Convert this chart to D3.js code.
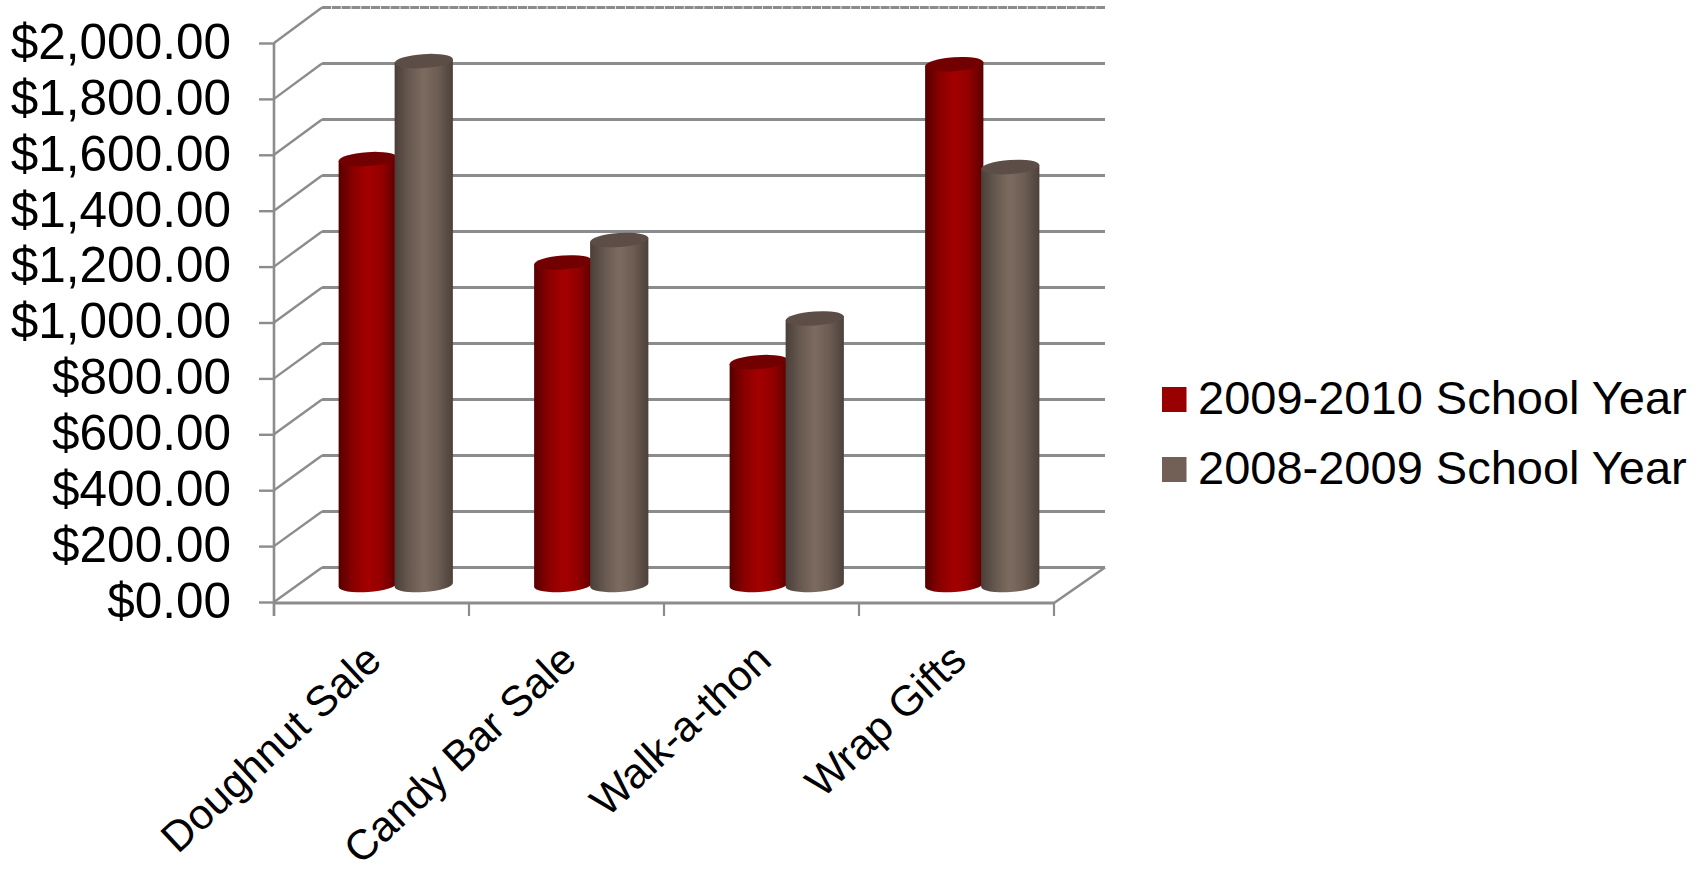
<!DOCTYPE html>
<html>
<head>
<meta charset="utf-8">
<script src="https://cdn.jsdelivr.net/npm/d3@7"></script>
<style>
	html, body { margin: 0; padding: 0; background: #fff; }
	svg { display: block; }
	text { font-family: "Liberation Sans", sans-serif; fill: #000; }
	.domain { display: none; }
</style>
</head>
<body>
<svg id="chart" width="1705" height="874"></svg>
<script>
"use strict";

var categories = ['Doughnut Sale', 'Candy Bar Sale', 'Walk-a-thon', 'Wrap Gifts'];
var seriesNames = ['2009-2010 School Year', '2008-2009 School Year'];
var values2010 = [1521, 1152, 796, 1860];
var values2009 = [1871, 1232, 952, 1493];
var tickValues = [0, 200, 400, 600, 800, 1000, 1200, 1400, 1600, 1800, 2000];

var seriesValues = [values2010, values2009];
var seriesColors = ['#990000', '#726056'];
var seriesTops = ['#730000', '#5b4e47'];
var seriesStops = [
	['#560000', '#8a0000', '#a40000', '#920000', '#5c0000'],
	['#4a3f39', '#675950', '#7c6b60', '#6c5c52', '#4c413a']
];

var svg = d3.select('#chart');
var lineColor = '#8c8c8c';

//floor corners of the 3d box
var left = 274, right = 1054, depthX = 48, depthRight = 51;
var floorFront = 603;

var x = d3.scaleBand().domain(categories).range([left, right]);
var xBars = d3.scaleBand().domain(categories).range([left, left + 782]);
var xSeries = d3.scaleBand().domain(seriesNames).range([-56, 56]);
var yFront = d3.scaleLinear().domain([0, 2000]).range([602, 43]);
var yBack = d3.scaleLinear().domain([0, 2000]).range([567.5, 7.5]);
var yMid = d3.scaleLinear().domain([0, 2000]).range([585, 25]);

var defs = svg.append('defs');
seriesStops.forEach(function(stops, i) {
	var grad = defs.append('linearGradient').attr('id', 'cyl' + i);
	stops.forEach(function(c, j) {
		grad.append('stop').attr('offset', j / (stops.length - 1)).attr('stop-color', c);
	});
});
var blur = defs.append('filter').attr('id', 'soft');
blur.append('feGaussianBlur').attr('stdDeviation', 0.5);

var box = svg.append('g').attr('filter', 'url(#soft)')
	.attr('stroke', lineColor).attr('fill', 'none');

//back wall gridlines, the top one is rough in the original
box.selectAll('.grid').data(tickValues).enter().append('line')
	.attr('class', 'grid')
	.attr('x1', left + depthX)
	.attr('x2', right + depthRight)
	.attr('y1', function(d) { return yBack(d); })
	.attr('y2', function(d) { return yBack(d); })
	.attr('stroke-dasharray', function(d) { return d === 2000 ? '9 0.8' : null; })
	.attr('stroke-width', 3);

//side wall diagonals
box.selectAll('.side').data(tickValues).enter().append('line')
	.attr('class', 'side')
	.attr('x1', left)
	.attr('x2', left + depthX)
	.attr('y1', function(d) { return yFront(d); })
	.attr('y2', function(d) { return yBack(d); })
	.attr('stroke-width', 2.4);

box.append('line')
	.attr('x1', right).attr('y1', floorFront)
	.attr('x2', right + depthRight).attr('y2', yBack(0))
	.attr('stroke-width', 2.6);

box.append('line')
	.attr('x1', left).attr('y1', yFront(2000))
	.attr('x2', left).attr('y2', 616)
	.attr('stroke-width', 2.6);

box.append('line')
	.attr('x1', left).attr('y1', floorFront)
	.attr('x2', right).attr('y2', floorFront)
	.attr('stroke-width', 3.2);

//category boundary ticks
var edges = categories.map(function(c) { return x(c); }).concat([right]);
box.selectAll('.edge').data(edges).enter().append('line')
	.attr('class', 'edge')
	.attr('x1', function(d) { return d; })
	.attr('x2', function(d) { return d; })
	.attr('y1', floorFront)
	.attr('y2', 616)
	.attr('stroke-width', 2.2);

//y axis
var yAxis = svg.append('g')
	.attr('transform', 'translate(' + left + ',0)')
	.call(d3.axisLeft(yFront)
		.tickValues(tickValues)
		.tickFormat(d3.format('$,.2f'))
		.tickSize(15)
		.tickPadding(28));
yAxis.selectAll('line').attr('stroke', lineColor).attr('stroke-width', 2.4);
yAxis.selectAll('text').attr('font-size', 49.5).attr('dy', '0.31em');

//x axis labels
var xAxis = svg.append('g')
	.attr('transform', 'translate(0,' + floorFront + ')')
	.call(d3.axisBottom(x).tickSize(0).tickPadding(0));
xAxis.selectAll('text')
	.attr('font-size', 42.5)
	.attr('text-anchor', 'end')
	.attr('dy', 0)
	.attr('transform', 'translate(12,60) rotate(-43)');

//cylinders
var rx = 29.2, ry = 7, tilt = -4;
var dx = rx * Math.cos(tilt * Math.PI / 180), dy = rx * Math.sin(tilt * Math.PI / 180);

function cylinder(g, cx, top, bottom, i) {
	var d = 'M' + (cx - dx) + ',' + (top - dy)
		+ 'L' + (cx - dx) + ',' + (bottom - dy)
		+ 'A' + rx + ',' + ry + ' ' + tilt + ' 0 0 ' + (cx + dx) + ',' + (bottom + dy)
		+ 'L' + (cx + dx) + ',' + (top + dy) + 'Z';
	g.append('path').attr('d', d).attr('fill', 'url(#cyl' + i + ')');
	g.append('ellipse')
		.attr('rx', rx).attr('ry', ry)
		.attr('transform', 'translate(' + cx + ',' + top + ') rotate(' + tilt + ')')
		.attr('fill', seriesTops[i]);
}

var bars = svg.append('g').attr('filter', 'url(#soft)');
categories.forEach(function(c, k) {
	var center = xBars(c) + xBars.bandwidth() / 2 + depthX / 2;
	seriesNames.forEach(function(s, i) {
		var cx = center + xSeries(s) + xSeries.bandwidth() / 2;
		cylinder(bars.append('g'), cx, yMid(seriesValues[i][k]), yMid(0), i);
	});
});

//legend
var legend = svg.append('g').selectAll('g').data(seriesNames).enter().append('g')
	.attr('transform', function(d, i) { return 'translate(1162,' + (387 + i * 70) + ')'; });
legend.append('rect')
	.attr('width', 24.5).attr('height', 25)
	.attr('fill', function(d, i) { return seriesColors[i]; });
legend.append('text')
	.attr('x', 36).attr('y', 27)
	.attr('font-size', 47)
	.text(function(d) { return d; });
</script>
</body>
</html>
